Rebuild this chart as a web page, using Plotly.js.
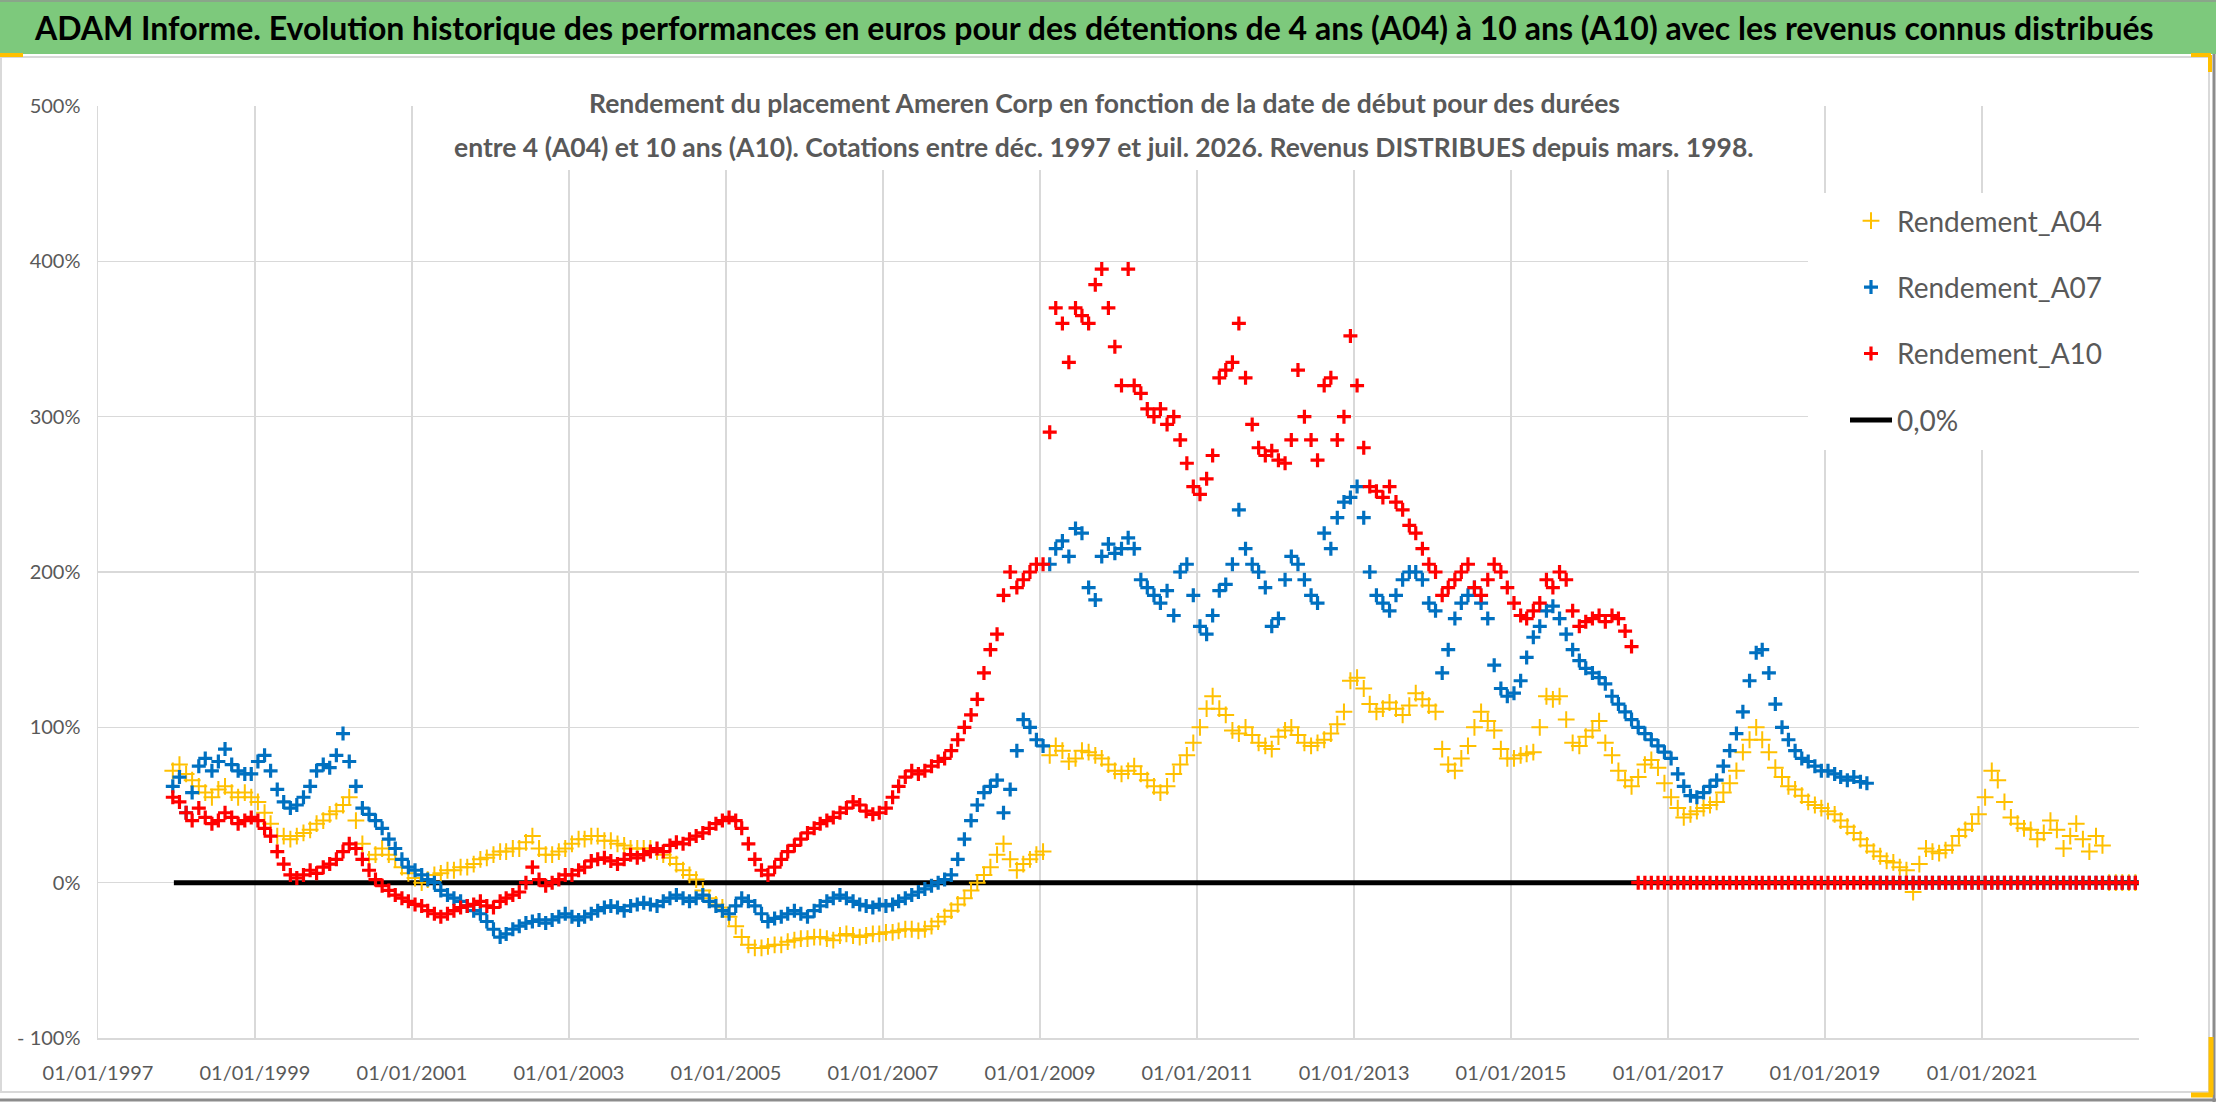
<!DOCTYPE html>
<html>
<head>
<meta charset="utf-8">
<script src="https://cdn.plot.ly/plotly-3.0.1.min.js"></script>
<style>
  body { margin: 0; background: #fff; }
  #chart { width: 2216px; height: 1102px; }
</style>
</head>
<body>
<div id="chart"></div>
<script>
// valeurs, un point par mois a partir de dec. 1997 (en %)
const a04 = [
  72,                                                   // 1997-12
  76, 70, 66, 62, 58, 55, 60, 62, 58, 55, 58, 55,       // 1998
  52, 45, 38, 30, 30, 28, 30, 32, 34, 38, 40, 44,       // 1999
  46, 50, 55, 40, 25, 15, 18, 22, 18, 15, 10, 6,        // 2000
  3, 0, 2, 5, 6, 8, 8, 10, 10, 12, 15, 16,              // 2001
  18, 20, 20, 22, 22, 26, 30, 22, 18, 18, 20, 22,       // 2002
  25, 28, 28, 30, 30, 27, 27, 25, 24, 22, 22, 22,       // 2003
  22, 20, 18, 16, 12, 8, 5, 2, -5, -10, -14, -16,       // 2004
  -22, -28, -35, -40, -42, -42, -41, -40, -40, -38, -37, -36, // 2005
  -36, -35, -35, -36, -37, -34, -33, -34, -35, -34, -33, -33, // 2006
  -32, -32, -31, -30, -30, -31, -30, -28, -25, -22, -18, -14, // 2007
  -10, -5, 0, 5, 10, 18, 25, 15, 8, 12, 15, 18,         // 2008
  20, 82, 88, 85, 78, 80, 85, 84, 82, 80, 76, 72,       // 2009
  70, 72, 75, 70, 66, 62, 58, 62, 70, 76, 82, 90,       // 2010
  100, 112, 120, 112, 108, 98, 96, 100, 95, 90, 88, 86, // 2011
  94, 98, 100, 95, 90, 88, 90, 92, 96, 102, 110, 130,   // 2012
  132, 125, 115, 110, 112, 116, 112, 108, 114, 122, 118, 114, // 2013
  110, 86, 76, 72, 80, 88, 100, 110, 104, 98, 86, 80,   // 2014
  80, 82, 83, 84, 100, 120, 118, 120, 105, 90, 88, 94,  // 2015
  98, 104, 90, 82, 72, 66, 62, 68, 76, 79, 74, 64,      // 2016
  55, 48, 42, 44, 46, 48, 50, 52, 58, 64, 72, 84,       // 2017
  92, 100, 92, 84, 74, 68, 62, 60, 56, 52, 50, 48,      // 2018
  46, 44, 40, 36, 32, 28, 24, 20, 17, 14, 13, 10,       // 2019
  8, -6, 12, 22, 20, 19, 21, 24, 30, 34, 38, 44,        // 2020
  55, 72, 66, 52, 42, 38, 35, 34, 28, 32, 40, 34,       // 2021
  22, 30, 38, 28, 20, 30, 24,                           // 2022 jan-juil
  0, 0, 0, 0, 0                                         // 2022 aout-dec
];

const a07 = [
  62,                                                   // 1997-12
  68, 45, 58, 75, 80, 72, 78, 86, 76, 72, 70, 70,       // 1998
  78, 82, 72, 60, 52, 48, 50, 55, 62, 72, 76, 74,       // 1999
  82, 96, 78, 62, 48, 44, 40, 35, 28, 22, 15, 10,       // 2000
  8, 5, 2, 0, -5, -8, -10, -12, -15, -18, -20, -25,     // 2001
  -30, -35, -33, -30, -28, -26, -25, -24, -26, -24, -22, -20, // 2002
  -22, -24, -22, -20, -18, -16, -15, -16, -18, -15, -14, -13, // 2003
  -14, -15, -12, -10, -8, -10, -12, -10, -8, -12, -15, -18,   // 2004
  -20, -15, -10, -12, -15, -20, -25, -23, -22, -20, -18, -20, // 2005
  -22, -18, -15, -12, -10, -8, -10, -12, -14, -15, -16, -14,  // 2006
  -15, -14, -12, -10, -8, -6, -4, -2, 0, 2, 5, 15,      // 2007
  28, 40, 50, 58, 62, 66, 45, 60, 85, 105, 100, 92,     // 2008
  88, 205, 215, 220, 210, 228, 225, 190, 182, 210, 218, 212, // 2009
  215, 222, 215, 195, 190, 185, 180, 188, 172, 200, 205, 185, // 2010
  165, 160, 172, 188, 192, 205, 240, 215, 205, 200, 190, 165, // 2011
  170, 195, 210, 205, 195, 185, 180, 225, 215, 235, 245, 248, // 2012
  255, 235, 200, 185, 180, 175, 185, 195, 200, 200, 195, 180, // 2013
  175, 135, 150, 170, 180, 185, 190, 180, 170, 140, 125, 120, // 2014
  122, 130, 145, 158, 165, 175, 178, 170, 160, 150, 143, 138, // 2015
  135, 132, 128, 120, 115, 110, 105, 100, 96, 92, 88, 84,     // 2016
  80, 70, 62, 56, 55, 58, 62, 66, 75, 85, 96, 110,      // 2017
  130, 148, 150, 135, 115, 100, 92, 85, 80, 78, 75, 72, // 2018
  72, 70, 68, 66, 68, 65, 64,                           // 2019 jan-juil
  0, 0, 0, 0, 0,                                        // 2019 aout-dec
  0, 0, 0, 0, 0, 0, 0, 0, 0, 0, 0, 0,                   // 2020
  0, 0, 0, 0, 0, 0, 0, 0, 0, 0, 0, 0,                   // 2021
  0, 0, 0, 0, 0, 0, 0, 0, 0, 0, 0, 0                    // 2022
];

const a10 = [
  55,                                                   // 1997-12
  52, 45, 40, 48, 42, 38, 40, 45, 42, 38, 40, 42,       // 1998
  40, 35, 30, 20, 12, 5, 3, 5, 8, 6, 10, 12,            // 1999
  15, 20, 25, 22, 15, 8, 2, -2, -5, -8, -10, -12,       // 2000
  -14, -15, -18, -20, -22, -20, -18, -16, -15, -14, -12, -15, // 2001
  -16, -12, -10, -8, -6, 0, 10, 2, -2, 0, 2, 5,         // 2002
  5, 8, 10, 14, 15, 16, 14, 12, 15, 18, 16, 18,         // 2003
  20, 22, 20, 24, 26, 25, 28, 30, 32, 35, 38, 40,       // 2004
  42, 40, 35, 25, 15, 8, 5, 10, 15, 20, 24, 28,         // 2005
  32, 35, 38, 40, 42, 45, 48, 52, 50, 46, 44, 45,       // 2006
  48, 55, 62, 68, 72, 70, 72, 75, 78, 80, 85, 92,       // 2007
  100, 108, 118, 135, 150, 160, 185, 200, 190, 195, 200, 205, // 2008
  205, 290, 370, 360, 335, 370, 365, 360, 385, 395, 370, 345, // 2009
  320, 395, 320, 315, 305, 300, 305, 295, 300, 285, 270, 255, // 2010
  250, 260, 275, 325, 330, 335, 360, 325, 295, 280, 275, 278, // 2011
  272, 270, 285, 330, 300, 285, 272, 320, 325, 285, 300, 352, // 2012
  320, 280, 255, 252, 248, 255, 245, 240, 230, 225, 215, 205, // 2013
  200, 185, 190, 195, 200, 205, 190, 185, 195, 205, 200, 190, // 2014
  180, 172, 170, 175, 180, 195, 190, 200, 195, 175, 165, 168, // 2015
  170, 172, 168, 172, 170, 162, 152,                    // 2016 jan-juil
  0, 0, 0, 0, 0,                                        // 2016 aout-dec
  0, 0, 0, 0, 0, 0, 0, 0, 0, 0, 0, 0,                   // 2017
  0, 0, 0, 0, 0, 0, 0, 0, 0, 0, 0, 0,                   // 2018
  0, 0, 0, 0, 0, 0, 0, 0, 0, 0, 0, 0,                   // 2019
  0, 0, 0, 0, 0, 0, 0, 0, 0, 0, 0, 0,                   // 2020
  0, 0, 0, 0, 0, 0, 0, 0, 0, 0, 0, 0,                   // 2021
  0, 0, 0, 0, 0, 0, 0, 0, 0, 0, 0, 0                    // 2022
];

const zeroDates = ['1997-12-20', '2022-12-31'];
const zeroVals = [0, 0];

const xTickDates = ['1997-01-01', '1999-01-01', '2001-01-01', '2003-01-01', '2005-01-01', '2007-01-01',
  '2009-01-01', '2011-01-01', '2013-01-01', '2015-01-01', '2017-01-01', '2019-01-01', '2021-01-01'];
const xTickText = ['01/01/1997', '01/01/1999', '01/01/2001', '01/01/2003', '01/01/2005', '01/01/2007',
  '01/01/2009', '01/01/2011', '01/01/2013', '01/01/2015', '01/01/2017', '01/01/2019', '01/01/2021'];
const yTickVals = [-100, 0, 100, 200, 300, 400, 500];
const yTickText = ['- 100%', '0%', '100%', '200%', '300%', '400%', '500%'];

const mainTitle = 'ADAM Informe. Evolution historique des performances en euros pour des détentions de 4 ans (A04) à 10 ans (A10) avec les revenus connus distribués';
const subTitle1 = 'Rendement du placement Ameren Corp en fonction de la date de début pour des durées';
const subTitle2 = 'entre 4 (A04) et 10 ans (A10). Cotations entre déc. 1997 et juil. 2026. Revenus DISTRIBUES depuis mars. 1998.';

// dates mensuelles (le 15 de chaque mois) a partir de dec. 1997
let monthly = (n) => {
  let out = [];
  for (let i = 0; i < n; i++) {
    let m = 11 + i;
    let y = 1997 + Math.floor(m / 12);
    out.push(y + '-' + String(m % 12 + 1).padStart(2, '0') + '-15');
  }
  return out;
};

// zone de trace en pixels
const L = 98, R = 2139, T = 106, B = 1038;
let px = (v) => (v - L) / (R - L);
let py = (v) => (B - v) / (B - T);

const gray = '#595959';
const font = 'Lato, "Open Sans", sans-serif';

let cross = (name, vals, color, size, lw, rank) => ({
  type: 'scatter',
  mode: 'markers',
  name: name,
  x: monthly(vals.length),
  y: vals,
  legendgroup: name,
  legendrank: rank,
  marker: { symbol: 'cross-thin', size: size, color: color, line: { color: color, width: lw } }
});

let traces = [
  {
    type: 'scatter', mode: 'lines', name: '0,0%',
    x: zeroDates, y: zeroVals,
    legendgroup: 'zero', legendrank: 4,
    line: { color: '#000000', width: 5 }
  },
  cross('Rendement_A04', a04, '#FFC000', 12, 2, 1),
  cross('Rendement_A07', a07, '#0070C0', 10, 3.2, 2),
  cross('Rendement_A10', a10, '#FF0000', 10, 3.2, 3)
];

let rect = (x0, y0, x1, y1, fill, line) => ({
  type: 'rect', xref: 'paper', yref: 'paper', layer: 'above',
  x0: px(x0), x1: px(x1), y0: py(y1), y1: py(y0),
  fillcolor: fill, line: line || { width: 0 }
});
let seg = (x0, y0, x1, y1, color, w) => ({
  type: 'line', xref: 'paper', yref: 'paper', layer: 'above',
  x0: px(x0), x1: px(x1), y0: py(y0), y1: py(y1),
  line: { color: color, width: w }
});

let shapes = [
  // bandeau vert du titre
  rect(0, 0, 2216, 54, '#7DC97C'),
  seg(0, 1, 2216, 1, '#8aa58a', 2),
  // caches blancs sous le sous-titre et la legende
  rect(440, 72, 1762, 170, '#FFFFFF'),
  rect(1808, 193, 2139, 450, '#FFFFFF'),
  // cadre du graphique
  rect(1, 57, 2209, 1092, 'rgba(0,0,0,0)', { color: '#D9D9D9', width: 2 }),
  seg(2214, 54, 2214, 1102, '#8c8c8c', 3),
  seg(0, 1100, 2216, 1100, '#8c8c8c', 3),
  // poignees de selection
  seg(0, 55, 23, 55, '#FFC000', 4),
  seg(2191, 55, 2211, 55, '#FFC000', 4),
  seg(2210, 55, 2210, 72, '#FFC000', 4),
  seg(2211, 1037, 2211, 1095, '#FFC000', 5),
  seg(2191, 1095, 2213, 1095, '#FFC000', 5)
];

let annotations = [
  {
    xref: 'paper', yref: 'paper', x: px(1094), y: py(28), xanchor: 'center', yanchor: 'middle',
    text: '<b>' + mainTitle + '</b>', showarrow: false,
    font: { family: '"Liberation Sans Narrow", Lato, sans-serif', size: 32, color: '#000000' }
  },
  {
    xref: 'paper', yref: 'paper', x: px(1104), y: py(103), xanchor: 'center', yanchor: 'middle',
    text: '<b>' + subTitle1 + '</b>', showarrow: false, font: { family: font, size: 26.5, color: gray }
  },
  {
    xref: 'paper', yref: 'paper', x: px(1104), y: py(147), xanchor: 'center', yanchor: 'middle',
    text: '<b>' + subTitle2 + '</b>', showarrow: false, font: { family: font, size: 26.5, color: gray }
  }
];

let layout = {
  width: 2216, height: 1102,
  margin: { l: L, r: 2216 - R, t: T, b: 1102 - B },
  paper_bgcolor: '#FFFFFF', plot_bgcolor: '#FFFFFF',
  showlegend: true,
  legend: {
    x: px(1845), y: py(196), xanchor: 'left', yanchor: 'top',
    bgcolor: 'rgba(0,0,0,0)', traceorder: 'grouped', tracegroupgap: 27,
    itemwidth: 42,
    font: { family: font, size: 28, color: gray }
  },
  xaxis: {
    type: 'date', range: ['1997-01-01', '2023-01-01'],
    tickmode: 'array', tickvals: xTickDates, ticktext: xTickText,
    showgrid: true, gridcolor: '#D9D9D9', gridwidth: 1.5,
    showline: true, linecolor: '#D9D9D9', linewidth: 1.5,
    zeroline: false, ticks: '', ticklabelstandoff: 16,
    tickfont: { family: font, size: 20, color: gray }
  },
  yaxis: {
    range: [-100, 500],
    tickmode: 'array', tickvals: yTickVals, ticktext: yTickText,
    showgrid: true, gridcolor: '#D9D9D9', gridwidth: 1.5,
    showline: true, linecolor: '#D9D9D9', linewidth: 1.5,
    zeroline: false, ticks: '', ticklabelstandoff: 12,
    tickfont: { family: font, size: 20, color: gray }
  },
  shapes: shapes,
  annotations: annotations,
  hovermode: false
};

Plotly.newPlot('chart', traces, layout, { staticPlot: true, displayModeBar: false });
</script>
</body>
</html>
